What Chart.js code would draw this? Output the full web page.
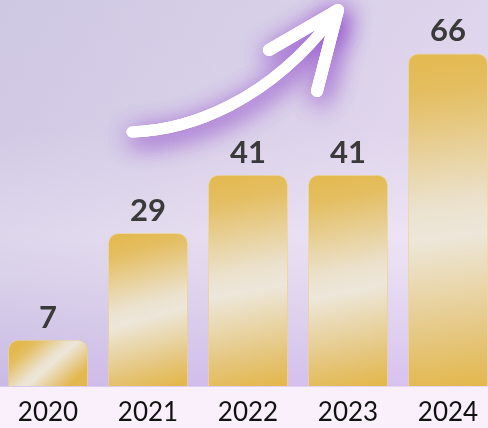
<!DOCTYPE html>
<html>
<head>
<meta charset="utf-8">
<script src="https://cdn.jsdelivr.net/npm/chart.js@4/dist/chart.umd.min.js"></script>
<style>
  body {
    margin: 0;
    width: 488px;
    height: 428px;
    overflow: hidden;
    position: relative;
    background:
      linear-gradient(to right, rgba(196,192,222,0.45), rgba(238,226,246,0.35)) 0 0 / 488px 387px no-repeat,
      linear-gradient(to bottom, #d6cee6 0px, #ddd2ea 130px, #f2e8f6 235px, #ecdff3 270px, #dccaee 330px, #d2b3ef 386px, #faf0fc 387px, #faf0fc 428px);
  }
  #wrap { position: absolute; left: -2px; top: 0; }
</style>
</head>
<body>
<div id="wrap"><canvas id="myChart" width="500" height="428"></canvas></div>
<script>
var years = ['2020', '2021', '2022', '2023', '2024'];
var values = [7, 29, 41, 41, 66];
var axisMin = -2.5;
var axisMax = 77;

var gold = '#e4ba52';
var cream = '#ede7da';

function barFill(context) {
  var chart = context.chart;
  if (!chart.chartArea || context.type !== 'data') return gold;
  var x = chart.scales.x.getPixelForValue(context.dataIndex);
  var top = chart.scales.y.getPixelForValue(values[context.dataIndex]);
  var bot = chart.scales.y.getPixelForValue(axisMin);
  var g = chart.ctx.createLinearGradient(x - 20, top, x + 20, bot);
  g.addColorStop(0, '#e3b94f');
  g.addColorStop(0.12, '#e4be62');
  g.addColorStop(0.45, '#ebe1cc');
  g.addColorStop(0.55, cream);
  g.addColorStop(0.85, '#e5c67e');
  g.addColorStop(1, '#e3b84e');
  return g;
}

function arrowPath(c) {
  c.lineWidth = 11;
  c.beginPath();
  c.moveTo(132, 132);
  c.bezierCurveTo(190, 130, 268, 102, 334, 16);
  c.stroke();
  c.lineWidth = 12;
  c.beginPath();
  c.moveTo(269, 50);
  c.lineTo(338, 10);
  c.lineTo(317, 91);
  c.stroke();
}

// white arrow with purple glow, decoration only
var arrowPlugin = {
  id: 'arrow',
  beforeDatasetsDraw: function(chart) {
    var c = chart.ctx;
    c.save();
    c.translate(2, 0);
    c.strokeStyle = '#ffffff';
    c.lineCap = 'round';
    c.lineJoin = 'round';
    c.shadowColor = 'rgba(150,85,205,0.8)';
    c.shadowBlur = 24;
    c.shadowOffsetX = 3;
    c.shadowOffsetY = 6;
    arrowPath(c);
    arrowPath(c);
    c.shadowColor = 'rgba(0,0,0,0)';
    c.shadowBlur = 0;
    c.shadowOffsetX = 0;
    c.shadowOffsetY = 0;
    arrowPath(c);
    c.restore();
  }
};

var valueLabels = {
  id: 'valueLabels',
  afterDatasetsDraw: function(chart) {
    var c = chart.ctx;
    var meta = chart.getDatasetMeta(0);
    c.save();
    c.font = 'bold 31px Lato';
    c.fillStyle = '#3a3a3a';
    c.textAlign = 'center';
    c.textBaseline = 'alphabetic';
    meta.data.forEach(function(bar, i) {
      c.fillText(values[i], bar.x, bar.y - 12);
    });
    c.restore();
  }
};

var ctx = document.getElementById('myChart').getContext('2d');
var myChart = new Chart(ctx, {
  type: 'bar',
  data: {
    labels: years,
    datasets: [{
      data: values,
      base: axisMin,
      backgroundColor: barFill,
      borderColor: 'rgba(240,212,130,0.7)',
      borderWidth: 1,
      borderRadius: 10,
      borderSkipped: 'start',
      categoryPercentage: 1,
      barPercentage: 0.8
    }]
  },
  options: {
    responsive: false,
    devicePixelRatio: 1,
    animation: false,
    layout: { padding: 0 },
    plugins: {
      legend: { display: false },
      tooltip: { enabled: false }
    },
    scales: {
      x: {
        grid: { display: false, drawTicks: false },
        border: { display: false },
        ticks: {
          padding: 11,
          color: '#111111',
          font: { family: 'Lato', size: 26 }
        },
        afterFit: function(s) { s.height = 42; }
      },
      y: {
        display: false,
        min: axisMin,
        max: axisMax
      }
    }
  },
  plugins: [arrowPlugin, valueLabels]
});
</script>
</body>
</html>
